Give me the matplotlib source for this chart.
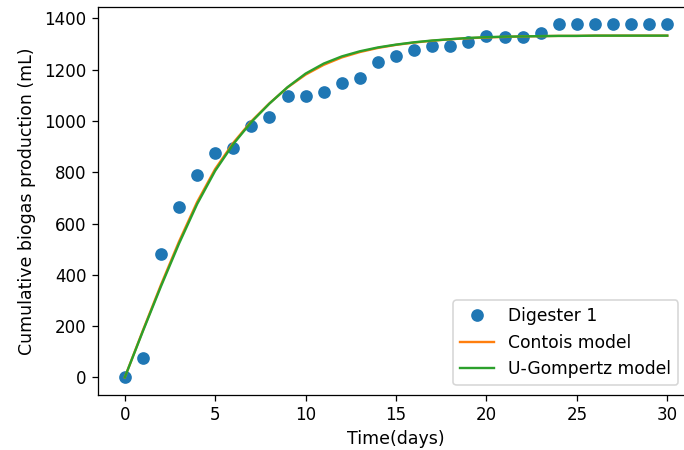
import matplotlib
matplotlib.use('Agg')
import matplotlib.pyplot as plt

# measured cumulative biogas, one reading per day
days = list(range(31))
digester_1 = [0, 75, 480, 665, 790, 875, 895, 980, 1014, 1098,
              1096, 1113, 1147, 1168, 1231, 1252, 1278, 1294, 1294, 1309,
              1330, 1328, 1328, 1343, 1377, 1377, 1377, 1377, 1377, 1377, 1377]

# fitted model curves evaluated at the same days
contois = [0, 183, 361, 530, 684, 813, 915, 999, 1069, 1131,
           1181, 1219, 1248, 1269, 1285, 1297, 1306, 1313, 1319, 1323,
           1326, 1328, 1330, 1331, 1332, 1332, 1333, 1333, 1333, 1333, 1333]
u_gompertz = [0, 180, 355, 522, 676, 806, 910, 996, 1068, 1132,
              1185, 1224, 1252, 1272, 1287, 1298, 1307, 1314, 1319, 1324,
              1327, 1329, 1330, 1331, 1332, 1332, 1333, 1333, 1333, 1333, 1333]


def main():
    fig = plt.figure(figsize=(684 / 114, 450 / 114), dpi=114)
    ax = fig.add_axes([0.1428, 0.1222, 0.8724, 0.8629])

    ax.plot(days, digester_1, 'o', markersize=7, label='Digester 1')
    ax.plot(days, contois, label='Contois model')
    ax.plot(days, u_gompertz, label='U-Gompertz model')

    ax.tick_params(labelsize=10.5)
    ax.set_xlabel('Time(days)', fontsize=11)
    ax.set_ylabel('Cumulative biogas production (mL)', fontsize=11, labelpad=5)
    ax.legend(loc='lower right', bbox_to_anchor=(678 / 684, 65 / 450),
              bbox_transform=fig.transFigure, borderaxespad=0, fontsize=10.8)

    fig.savefig('out.png', dpi=114)


if __name__ == '__main__':
    main()
